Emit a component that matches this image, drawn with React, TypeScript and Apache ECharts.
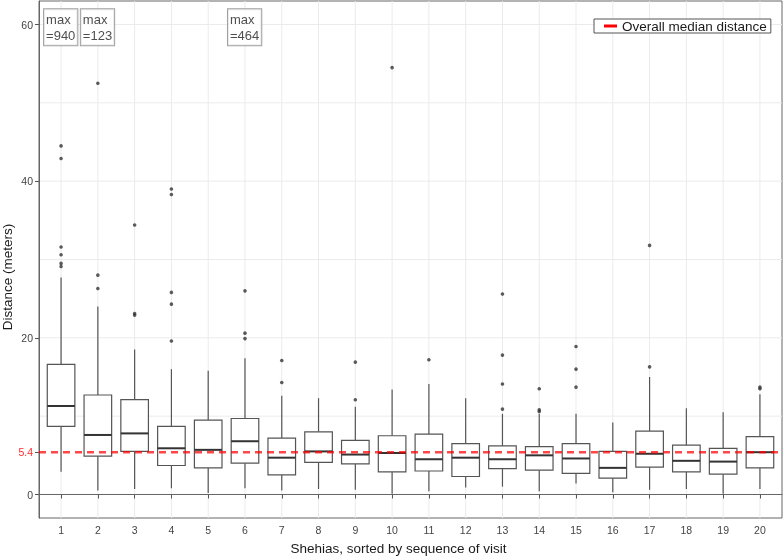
import React, { useEffect, useRef } from "react";
import * as echarts from "echarts";

const categories = ["1","2","3","4","5","6","7","8","9","10","11","12","13","14","15","16","17","18","19","20"];
const whiskerLow = [2.9,0.5,0.7,0.8,0.2,0.8,0.5,0.7,0.6,0.1,0.4,0.9,1.0,0.4,1.4,0.3,0.6,0.7,0.1,0.7];
const q1 = [8.7,4.9,5.5,3.7,3.4,4.0,2.5,4.1,3.9,2.9,3.0,2.3,3.3,3.1,2.7,2.1,3.5,2.9,2.6,3.4];
const median = [11.3,7.6,7.8,5.9,5.7,6.8,4.7,5.5,5.1,5.3,4.5,4.7,4.5,5.0,4.6,3.4,5.2,4.3,4.2,5.4];
const q3 = [16.6,12.7,12.1,8.7,9.5,9.7,7.2,8.0,6.9,7.5,7.7,6.5,6.2,6.1,6.5,5.5,8.1,6.3,5.9,7.4];
const whiskerHigh = [27.7,24.0,18.5,16.0,15.8,17.4,12.6,12.3,11.2,13.4,14.1,12.3,10.3,10.3,10.3,9.2,15.0,11.0,10.5,12.8];

// outliers per category (category label, value)
const outlierCats = ["1","1","1","1","1","1","2","2","2","3","3","3","4","4","4","4","4","6","6","6","7","7","9","9","10","11","13","13","13","13","14","14","14","15","15","15","17","17","20","20"];
const outlierVals = [44.5,42.9,31.6,30.6,29.5,29.1,52.5,28.0,26.3,34.4,23.1,22.9,39.0,38.3,25.8,24.3,19.6,26.0,20.6,19.9,17.1,14.3,16.9,12.1,54.5,17.2,25.6,17.8,14.1,10.9,13.5,10.8,10.6,18.9,16.0,13.7,31.8,16.3,13.7,13.5];

const maxLabelCats = ["1","2","6"];
const maxLabelVals = [940,123,464];
const maxLabelY = 60;

const overallMedian = 5.4;
const yTickLabels = [0, overallMedian, 20, 40, 60];
const yGridValues = [0, 10, 20, 30, 40, 50, 60];

const legendName = "Overall median distance";
const FONT = "'Liberation Sans', Arial, sans-serif";

export default function App() {
  const ref = useRef<HTMLDivElement>(null);
  useEffect(() => {
    if (!ref.current) return;
    const chart = echarts.init(ref.current, undefined, { renderer: "svg" });
    const pos = (c: string) => categories.indexOf(c) + 1;
    const xs = categories.map((c) => pos(c));
    const boxData = categories.map((c, i) => [pos(c), whiskerLow[i], q1[i], median[i], q3[i], whiskerHigh[i]]);
    const outData = outlierCats.map((c, i) => [pos(c), outlierVals[i]]);
    const labelData = maxLabelCats.map((c, i) => [pos(c), maxLabelY, maxLabelVals[i]]);
    const xMin = 0.4, xMax = categories.length + 0.6;

    const boxStroke = "#555555";
    const option: any = {
      animation: false,
      textStyle: { fontFamily: FONT },
      grid: { left: 39, right: 1, top: 1, bottom: 39, show: true, borderColor: "#666", borderWidth: 1, backgroundColor: "#fff" },
      xAxis: {
        type: "value", min: xMin, max: xMax,
        splitLine: { show: false },
        axisLine: { show: true, lineStyle: { color: "#666", width: 1 } },
        axisTick: { show: true, customValues: xs, length: 4, lineStyle: { color: "#555" } },
        axisLabel: { customValues: xs, margin: 6, fontSize: 10.5, color: "#444", fontFamily: FONT, formatter: (v: number) => categories[Math.round(v) - 1] ?? "" },
      },
      yAxis: {
        type: "value", min: -3, max: 63,
        splitLine: { show: false },
        axisLine: { show: true, lineStyle: { color: "#666", width: 1 } },
        axisTick: { show: true, customValues: yTickLabels, length: 4, lineStyle: { color: "#555" } },
        axisLabel: {
          customValues: yTickLabels, margin: 6, fontSize: 10.5, color: "#444", fontFamily: FONT,
          formatter: (v: number) => (Math.abs(v - overallMedian) < 1e-9 ? "{red|" + overallMedian + "}" : String(v)),
          rich: { red: { color: "#ff2a2a", fontSize: 10.5, fontFamily: FONT } },
        },
      },
      legend: {
        data: [{ name: legendName, icon: "rect", itemStyle: { color: "#ff0000" } }],
        left: 594, top: 19,
        padding: [0, 4, 0, 10],
        itemWidth: 13, itemHeight: 3,
        borderColor: "#555", borderWidth: 1, borderRadius: 0,
        backgroundColor: "#fff",
        textStyle: { fontSize: 13.5, color: "#1a1a1a", fontFamily: FONT, lineHeight: 14 },
        selectedMode: false,
      },
      graphic: [
        { type: "text", x: 7.5, y: 277, rotation: Math.PI / 2, style: { text: "Distance (meters)", fontSize: 13.5, fontFamily: FONT, fill: "#1a1a1a", textAlign: "center", textVerticalAlign: "middle" } },
        { type: "text", x: 398.5, y: 548, style: { text: "Shehias, sorted by sequence of visit", fontSize: 13.5, fontFamily: FONT, fill: "#1a1a1a", textAlign: "center", textVerticalAlign: "middle" } },
      ],
      series: [
        {
          type: "custom", name: "vgrid", z: 0, silent: true,
          data: xs.map((x) => [x, 0]),
          encode: { x: 0, y: 1 },
          renderItem: (params: any, api: any) => {
            const p = api.coord([api.value(0), 0]);
            const cs = params.coordSys;
            return { type: "line", shape: { x1: p[0], y1: cs.y, x2: p[0], y2: cs.y + cs.height }, style: { stroke: "#ebebeb", lineWidth: 1 } };
          },
        },
        {
          type: "custom", name: "hgrid", z: 0, silent: true,
          data: yGridValues.map((y) => [1, y]),
          encode: { x: 0, y: 1 },
          renderItem: (params: any, api: any) => {
            const p = api.coord([1, api.value(1)]);
            const cs = params.coordSys;
            return { type: "line", shape: { x1: cs.x, y1: p[1], x2: cs.x + cs.width, y2: p[1] }, style: { stroke: "#ebebeb", lineWidth: 1 } };
          },
        },
        {
          type: "custom", name: "boxes", z: 2,
          data: boxData,
          encode: { x: 0, y: [1, 2, 3, 4, 5] },
          renderItem: (params: any, api: any) => {
            const x = api.value(0);
            const half = api.size([0.75, 0])[0] / 2;
            const lo = api.coord([x, api.value(1)]);
            const b1 = api.coord([x, api.value(2)]);
            const md = api.coord([x, api.value(3)]);
            const b3 = api.coord([x, api.value(4)]);
            const hi = api.coord([x, api.value(5)]);
            const cx = lo[0];
            const st = { stroke: boxStroke, lineWidth: 1.2, fill: null };
            return {
              type: "group",
              children: [
                { type: "line", shape: { x1: cx, y1: lo[1], x2: cx, y2: b1[1] }, style: st },
                { type: "line", shape: { x1: cx, y1: b3[1], x2: cx, y2: hi[1] }, style: st },
                { type: "rect", shape: { x: cx - half, y: b3[1], width: half * 2, height: b1[1] - b3[1] }, style: { stroke: boxStroke, lineWidth: 1.2, fill: "#fff" } },
                { type: "line", shape: { x1: cx - half, y1: md[1], x2: cx + half, y2: md[1] }, style: { stroke: "#333", lineWidth: 2 } },
              ],
            };
          },
        },
        {
          type: "line", name: legendName, z: 3,
          data: [[xMin, overallMedian], [xMax, overallMedian]],
          symbol: "none",
          lineStyle: { color: "rgba(255,0,0,0.72)", width: 2.5, type: [7, 5] },
          itemStyle: { color: "#ff0000" },
          silent: true,
        },
        {
          type: "scatter", name: "outliers", z: 4,
          data: outData,
          symbol: "circle", symbolSize: 3.6,
          itemStyle: { color: "#333" },
          silent: true,
        },
        {
          type: "scatter", name: "maxLabels", z: 5,
          data: labelData,
          symbolSize: 0,
          silent: true,
          label: {
            show: true, position: "inside", offset: [-17, 2.7],
            formatter: (p: any) => "max\n=" + p.value[2],
            fontSize: 13, lineHeight: 16, color: "#222", fontFamily: FONT,
            align: "left", verticalAlign: "middle",
            backgroundColor: "#fff", borderColor: "#888", borderWidth: 1, padding: [2, 2, 2, 2],
          },
        },
      ],
    };
    chart.setOption(option);
    return () => chart.dispose();
  }, []);
  return <div ref={ref} style={{ position: "fixed", left: 0, top: 0, width: 783, height: 557 }} />;
}
